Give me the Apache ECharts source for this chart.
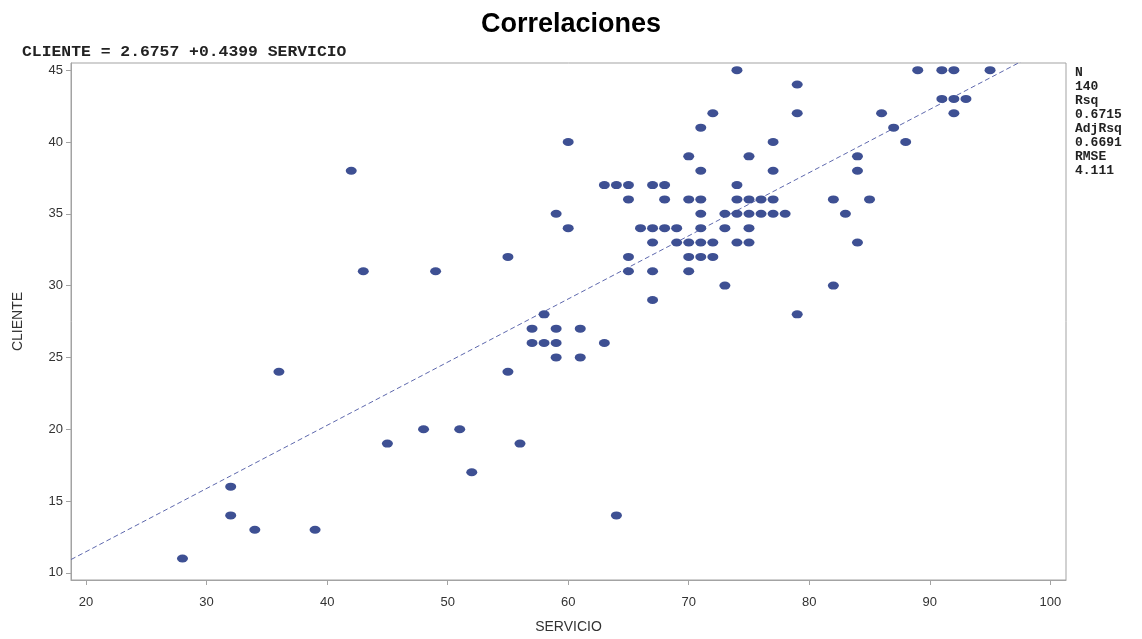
<!DOCTYPE html>
<html>
<head>
<meta charset="utf-8">
<title>Correlaciones</title>
<script src="https://cdn.jsdelivr.net/npm/echarts@6/dist/echarts.min.js"></script>
<style>
  html, body { margin: 0; padding: 0; background: #ffffff; }
  #chart { width: 1142px; height: 639px; }
</style>
</head>
<body>
<div id="chart"></div>
<script>
// SERVICIO (x) and CLIENTE (y) for each plotted observation
const servicio = [
  28, 32, 32, 34, 36, 39, 42, 43, 45, 48, 49, 51, 52, 55, 55, 56, 57, 57, 58, 58,
  59, 59, 59, 59, 60, 60, 61, 61, 63, 63, 64, 64, 65, 65, 65, 65, 66, 67, 67, 67,
  67, 67, 68, 68, 68, 69, 69, 70, 70, 70, 70, 70, 71, 71, 71, 71, 71, 71, 71, 72,
  72, 72, 73, 73, 73, 74, 74, 74, 74, 74, 75, 75, 75, 75, 75, 76, 76, 77, 77, 77,
  77, 78, 79, 79, 79, 82, 82, 83, 84, 84, 84, 85, 86, 87, 88, 89, 91, 91, 92, 92,
  92, 93, 95
];
const cliente = [
  11, 16, 14, 13, 24, 13, 38, 31, 19, 20, 31, 20, 17, 32, 24, 19, 27, 26, 28, 26,
  35, 27, 26, 25, 40, 34, 27, 25, 37, 26, 37, 14, 37, 36, 32, 31, 34, 37, 34, 33,
  31, 29, 37, 36, 34, 34, 33, 39, 36, 33, 32, 31, 41, 38, 36, 35, 34, 33, 32, 42,
  33, 32, 35, 34, 30, 45, 37, 36, 35, 33, 39, 36, 35, 34, 33, 36, 35, 40, 38, 36,
  35, 35, 44, 42, 28, 36, 30, 35, 39, 38, 33, 36, 42, 41, 40, 45, 45, 43, 45, 43,
  42, 43, 45
];

// Fitted regression and its summary statistics
const intercept = 2.6757;
const slope = 0.4399;
const statLabels = ['N', '140', 'Rsq', '0.6715', 'AdjRsq', '0.6691', 'RMSE', '4.111'];

// Axis ranges and tick values
const xRange = [18.75, 101.3];
const yRange = [9.5, 45.5];
const xTicks = [20, 30, 40, 50, 60, 70, 80, 90, 100];
const yTicks = [10, 15, 20, 25, 30, 35, 40, 45];

const points = servicio.map((s, i) => [s, cliente[i]]);
const fitLine = xRange.map(x => [x, intercept + slope * x]);

const axisGray = '#a3a3a3';
const tickText = '#333333';
const sans = '"Liberation Sans", Arial, sans-serif';
const mono = '"Liberation Mono", "DejaVu Sans Mono", monospace';

const chart = echarts.init(document.getElementById('chart'), null, { renderer: 'canvas' });

chart.setOption({
  animation: false,
  backgroundColor: '#ffffff',
  title: {
    text: 'Correlaciones',
    left: 'center',
    top: 6,
    textStyle: { fontFamily: sans, fontSize: 27, fontWeight: 'bold', color: '#000000' }
  },
  grid: {
    left: 71, right: 76, top: 63, bottom: 48,
    show: true,
    borderColor: axisGray,
    borderWidth: 1,
    backgroundColor: '#ffffff'
  },
  xAxis: {
    type: 'value',
    min: xRange[0],
    max: xRange[1],
    name: 'SERVICIO',
    nameLocation: 'middle',
    nameGap: 40,
    nameTextStyle: { fontFamily: sans, fontSize: 14, color: tickText },
    splitLine: { show: false },
    axisLine: { show: true, lineStyle: { color: axisGray, width: 1 } },
    axisTick: { show: true, length: 5, customValues: xTicks, lineStyle: { color: axisGray } },
    axisLabel: { customValues: xTicks, margin: 16, fontFamily: sans, fontSize: 13, color: tickText }
  },
  yAxis: {
    type: 'value',
    min: yRange[0],
    max: yRange[1],
    name: 'CLIENTE',
    nameLocation: 'middle',
    nameGap: 46,
    nameRotate: 90,
    nameTextStyle: { fontFamily: sans, fontSize: 14, color: tickText },
    splitLine: { show: false },
    axisLine: { show: true, lineStyle: { color: axisGray, width: 1 } },
    axisTick: { show: true, length: 5, customValues: yTicks, lineStyle: { color: axisGray } },
    axisLabel: { customValues: yTicks, margin: 8, fontFamily: sans, fontSize: 13, color: tickText }
  },
  graphic: [
    {
      type: 'text',
      left: 22,
      top: 45,
      scaleX: 1.17,
      style: {
        text: 'CLIENTE = ' + intercept.toFixed(4) + ' +' + slope.toFixed(4) + ' SERVICIO',
        font: 'bold 14px ' + mono,
        fill: '#222222'
      }
    },
    {
      type: 'group',
      left: 1075,
      top: 66,
      children: statLabels.map((t, i) => ({
        type: 'text',
        x: 0,
        y: i * 14,
        style: { text: t, font: 'bold 13px ' + mono, fill: '#222222' }
      }))
    }
  ],
  series: [
    {
      type: 'line',
      data: fitLine,
      clip: true,
      symbol: 'none',
      silent: true,
      lineStyle: { color: '#5e68ad', width: 1, type: [5, 3] },
      z: 1
    },
    {
      type: 'scatter',
      data: points,
      symbol: 'circle',
      symbolSize: [11, 8],
      itemStyle: { color: '#3e5093', opacity: 1 },
      z: 2
    }
  ]
});
</script>
</body>
</html>
